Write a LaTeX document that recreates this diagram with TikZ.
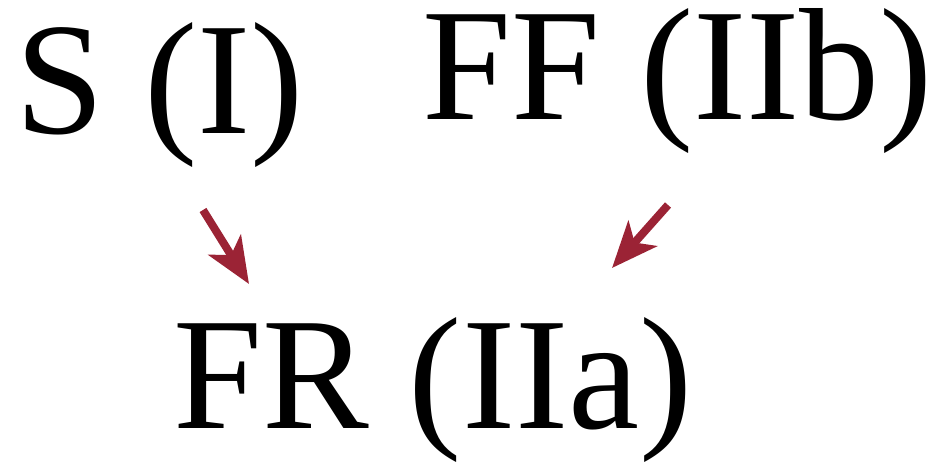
\documentclass[tikz,border=0pt]{standalone}
\usepackage{fontspec}
\setmainfont{Liberation Serif}
\usepackage{xcolor}
\usetikzlibrary{arrows.meta,positioning}

\definecolor{arrowred}{RGB}{155,35,53}

\begin{document}
\begin{tikzpicture}[
  x=1pt, y=1pt,
  every node/.style={font=\fontsize{160pt}{192pt}\selectfont, inner sep=0pt, anchor=base west},
  arr/.style={-{Stealth[length=46pt,width=38pt,inset=12pt]}, line width=8pt, color=arrowred},
]
\useasboundingbox (0,0) rectangle (949,-462);

% === Top row ===
\node (s) at (15,-134) {S (I)};
\node (ff) at (422,-120) {FF (IIb)};

% === Bottom row ===
\node (fr) at (173,-428) {FR (IIa)};

% === Arrow ends ===
\coordinate (s tail) at (203,-210);
\coordinate (s tip) at (249,-284);
\coordinate (ff tail) at (668,-205);
\coordinate (ff tip) at (612,-268);

% === Arrows ===
\draw[arr] (s tail) -- (s tip);
\draw[arr] (ff tail) -- (ff tip);

\end{tikzpicture}
\end{document}
